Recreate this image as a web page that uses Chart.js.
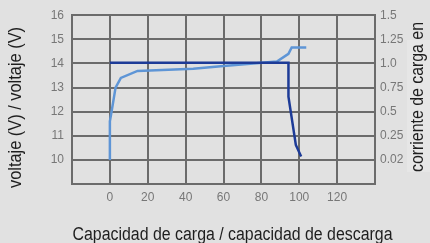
<!DOCTYPE html>
<html>
<head>
<meta charset="utf-8">
<script src="https://cdn.jsdelivr.net/npm/chart.js@4.4.1/dist/chart.umd.min.js"></script>
<style>
    html, body { margin: 0; padding: 0; background: #e1e1e1; }
    #wrap { width: 430px; height: 243px; position: relative; }
</style>
</head>
<body>
<div id="wrap"><canvas id="chart"></canvas></div>
<script>
// charge curve (light blue): capacity % vs voltage
const chargeX = [0, 0, 0.9, 3, 5.8, 14.6, 44, 60, 88.2, 94.3, 96, 103.7];
const chargeV = [10, 11.6, 12.0, 13.0, 13.4, 13.69, 13.78, 13.89, 14.08, 14.4, 14.66, 14.66];
// charge current curve (dark blue)
const currentX = [0, 94.3, 94.3, 98.2, 101];
const currentV = [14.03, 14.03, 12.62, 10.62, 10.14];

// right axis labels, one per left tick 10..16
const leftTicks = [10, 11, 12, 13, 14, 15, 16];
const rightLabels = ['0.02', '0.25', '0.5', '0.75', '1.0', '1.25', '1.5'];
const xTicks = [0, 20, 40, 60, 80, 100, 120];

const xTitle = 'Capacidad de carga / capacidad de descarga';
const yTitle = 'voltaje (V) / voltaje (V)';
const y2Title = 'corriente de carga en';

const toPoints = (xs, ys) => xs.map((x, i) => ({ x: x, y: ys[i] }));

const titleFont = '"Liberation Sans", Arial, sans-serif';

// draws text squeezed horizontally to a given length (condensed look)
function squeezedText(ctx, text, x, y, font, len, angle) {
    ctx.save();
    ctx.font = font;
    ctx.fillStyle = '#1e1e1e';
    ctx.textAlign = 'center';
    ctx.textBaseline = 'middle';
    const w = ctx.measureText(text).width;
    ctx.translate(x, y);
    ctx.rotate(angle);
    ctx.scale(len / w, 1);
    ctx.fillText(text, 0, 0);
    ctx.restore();
}

const bgPlugin = {
    id: 'bg',
    beforeDraw(chart) {
        const ctx = chart.ctx;
        ctx.save();
        ctx.fillStyle = '#e1e1e1';
        ctx.fillRect(0, 0, chart.width, chart.height);
        // lighter strip behind the right title
        ctx.fillStyle = '#e6e6e6';
        ctx.fillRect(407, 40, 23, 132);
        ctx.restore();
    },
    afterDraw(chart) {
        const ctx = chart.ctx;
        squeezedText(ctx, xTitle, 232.5, 235, '18px ' + titleFont, 320, 0);
        squeezedText(ctx, yTitle, 16, 107.5, '18px ' + titleFont, 161, -Math.PI / 2);
        squeezedText(ctx, y2Title, 418, 97, '18px ' + titleFont, 150, -Math.PI / 2);
    }
};

const tickFont = { family: '"Liberation Sans", Arial, sans-serif', size: 12 };

new Chart(document.getElementById('chart'), {
    type: 'scatter',
    data: {
        datasets: [
            {
                label: 'corriente',
                data: toPoints(currentX, currentV),
                showLine: true,
                borderColor: '#1d3b97',
                borderWidth: 2.5,
                pointRadius: 0,
                tension: 0
            },
            {
                label: 'voltaje',
                data: toPoints(chargeX, chargeV),
                showLine: true,
                borderColor: '#5e95d6',
                borderWidth: 2.5,
                pointRadius: 0,
                tension: 0
            }
        ]
    },
    options: {
        responsive: true,
        maintainAspectRatio: false,
        animation: false,
        layout: { padding: { top: 15, left: 0, right: 0, bottom: 0 } },
        plugins: { legend: { display: false }, tooltip: { enabled: false } },
        scales: {
            x: {
                type: 'linear',
                min: -20,
                max: 140,
                afterFit: s => { s.height = 59; },
                afterBuildTicks: s => { s.ticks = [-20].concat(xTicks, [140]).map(v => ({ value: v })); },
                grid: { color: '#6b6b6b', lineWidth: 2, drawTicks: false },
                border: { color: '#6b6b6b', width: 2 },
                ticks: {
                    padding: 6,
                    color: '#777',
                    font: tickFont,
                    maxRotation: 0,
                    callback: v => xTicks.includes(v) ? String(v) : ''
                }
            },
            y: {
                position: 'left',
                min: 9,
                max: 16,
                afterFit: s => { s.width = 72; },
                afterBuildTicks: s => { s.ticks = [9].concat(leftTicks).map(v => ({ value: v })); },
                grid: { color: '#6b6b6b', lineWidth: 2, drawTicks: false },
                border: { color: '#6b6b6b', width: 2 },
                ticks: {
                    padding: 8,
                    color: '#777',
                    font: tickFont,
                    callback: v => leftTicks.includes(v) ? String(v) : ''
                }
            },
            y2: {
                position: 'right',
                min: 9,
                max: 16,
                afterFit: s => { s.width = 55; },
                afterBuildTicks: s => { s.ticks = [9].concat(leftTicks).map(v => ({ value: v })); },
                grid: { display: false, drawTicks: false },
                border: { color: '#6b6b6b', width: 2 },
                ticks: {
                    padding: 5,
                    color: '#777',
                    font: tickFont,
                    callback: v => {
                        const i = leftTicks.indexOf(v);
                        return i >= 0 ? rightLabels[i] : '';
                    }
                }
            }
        }
    },
    plugins: [bgPlugin]
});
</script>
</body>
</html>
